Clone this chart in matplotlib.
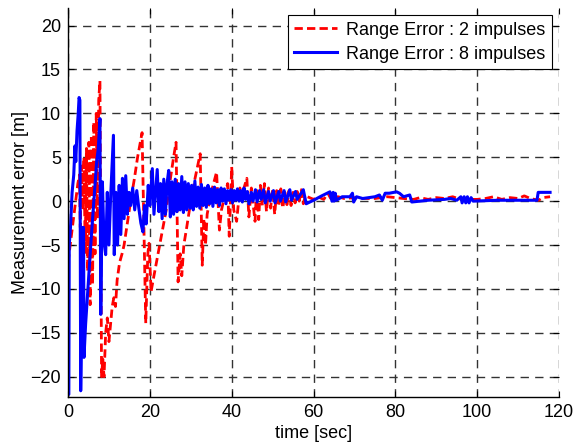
import matplotlib
matplotlib.use("Agg")
import matplotlib.pyplot as plt

plt.rcParams['font.family'] = ['Liberation Sans', 'DejaVu Sans']

# Range error, 2 impulses (red dashed)
red_t = [0.0, 0.4, 0.8, 1.2, 1.6, 2.0, 2.4, 2.8, 3.0, 3.3, 3.6, 3.9, 4.2, 4.5, 4.8, 5.1, 5.4, 5.7, 6.0, 6.3,
         6.6, 6.9, 7.2, 7.5, 7.8, 8.2, 8.5, 8.8, 9.2, 9.6, 10.0, 10.4, 10.8, 11.2, 11.6, 12.0, 12.6, 13.2, 13.7, 14.5,
         15.3, 16.2, 17.0, 17.6, 18.1, 18.5, 19.0, 19.5, 19.8, 20.3, 21.0, 22.0, 23.0, 24.0, 25.0, 25.8, 26.4, 26.9, 27.4, 27.8,
         28.3, 29.0, 30.0, 31.0, 32.3, 32.8, 33.2, 33.6, 34.0, 35.0, 36.3, 37.0, 37.5, 38.0, 39.0, 39.4, 40.0, 40.5, 41.2, 42.0,
         42.5, 43.0, 43.7, 44.2, 44.8, 45.7, 46.1, 46.6, 47.0, 47.5, 48.0, 48.5, 49.0, 49.5, 50.0, 50.5, 51.0, 51.5, 52.0, 52.5,
         53.0, 53.5, 54.0, 54.5, 55.0, 55.5, 56.0, 56.5, 57.0, 57.5, 58.0, 60.0, 61.0, 62.5, 63.5, 64.2, 66.0, 67.5, 70.0, 72.0,
         75.0, 78.0, 80.0, 82.0, 84.5, 86.0, 88.0, 90.0, 92.0, 94.0, 96.0, 100.0, 102.0, 104.0, 106.0, 108.0, 110.0, 111.5, 113.0, 115.0,
         116.0, 117.8]
red_err = [-7, -5.5, -4, -2.5, -1, 0.5, 2, 3, -3, 4, -1, 5, -6, 6, -8, 6.7, -11.8, 7.5, -9.5, 9,
           -6, 10, -2, 11.5, 13.7, -20, -18, -20, -15, -13.3, -16, -14, -12, -11, -12, -9, -7, -6, -5, -2.5,
           0, 2.5, 5, 6.5, 7.8, -2, -13.9, -6, -4.8, -10.3, -8.5, -6, -3.5, -1, 2.5, 5, 6.7, -9.2, -6, -8.5,
           -5, -3, 0, 2.5, 5.4, -7.3, -2, -5, -1.5, 1, 3.3, -3.3, -1, 0, 2, -4, 3.9, -1, -2.3, 1.5,
           0, 1.5, 2.6, -1.8, 1.5, -2.3, 1.5, -2.1, 1.8, -0.5, 2, -1.2, 1.5, -0.8, 1.3, -1.5, 1.2, -0.6, 1.4, -0.8,
           1.0, -0.4, 1.2, -0.5, 1.0, -0.2, 1.1, 0, 1.3, -0.3, 0.6, 0.2, 0.5, 0.2, 0.9, 0.3, 0.5, 0.3, 0.4, 0.3,
           0.3, 0.5, 0.4, 0.3, 0.2, 0.4, 0.2, 0.4, 0.3, 0.5, 0.2, 0.2, 0.3, 0.5, 0.2, 0.4, 0.3, 0.6, 0.3, 0.1,
           0.4, 0.5]

# Range error, 8 impulses (blue solid)
blue_t = [0.0, 0.2, 0.3, 0.6, 1.0, 1.4, 1.7, 1.9, 2.2, 2.5, 2.7, 2.9, 3.1, 3.3, 3.5, 3.8, 3.9, 4.3, 5.0, 5.7,
          6.3, 7.0, 7.4, 7.8, 8.0, 8.4, 8.8, 9.2, 9.6, 10.0, 10.4, 11.1, 11.3, 11.7, 12.1, 12.5, 12.9, 13.3, 13.7, 14.1,
          14.5, 14.9, 15.3, 15.8, 16.3, 16.8, 17.3, 17.8, 18.3, 18.7, 19.1, 19.6, 20.0, 20.6, 21.0, 21.4, 21.8, 22.2, 22.6, 23.0,
          23.4, 23.8, 24.2, 24.6, 25.0, 25.4, 25.8, 26.2, 26.6, 27.0, 27.4, 27.8, 28.2, 28.6, 29.0, 29.4, 29.8, 30.2, 30.6, 31.0,
          31.4, 31.8, 32.2, 32.6, 33.0, 33.4, 33.8, 34.2, 34.6, 35.0, 35.4, 35.8, 36.2, 36.6, 37.0, 37.4, 37.8, 38.2, 38.6, 39.0,
          39.4, 39.8, 40.2, 40.6, 41.0, 41.4, 41.8, 42.2, 42.6, 43.0, 43.4, 43.8, 44.2, 44.8, 45.2, 45.8, 46.2, 46.8, 47.2, 47.8,
          48.2, 49.0, 49.4, 50.2, 50.6, 51.5, 51.9, 52.8, 53.2, 54.2, 54.6, 55.6, 56.0, 57.5, 58.2, 60.0, 62.0, 64.0, 64.5, 64.8,
          65.0, 65.3, 65.6, 67.0, 68.9, 69.5, 69.8, 70.5, 72.0, 75.0, 76.1, 76.8, 77.5, 78.5, 80.3, 81.0, 82.0, 83.5, 84.0, 88.0,
          92.0, 93.5, 95.0, 96.0, 96.3, 96.8, 97.2, 97.6, 98.0, 98.5, 99.0, 105.0, 110.0, 114.6, 114.9, 117.8]
blue_err = [-22, -22, -5, -3, 1, 3, 6.3, 4.5, 8, 10, 11.8, 11.5, -21.6, -15, -3, -3, -17.8, -14, -9, -4,
            0, 4.5, 6, 9.4, -12.9, 2.2, -4.6, -6.1, 1, -5, 0.3, 7.5, -6.1, 1, -5, 1.8, -3.8, 2.6, -2, 2.9,
            -1.5, 1, -0.5, 1.5, -1, 1.2, -0.8, -2.5, -3.5, -0.5, -2.6, 1.8, -0.5, 3.7, -1.5, 1, 3.6, -1.2, 2, -2,
            2.5, -1.5, 2, 3.5, -1.8, 2.2, -1.5, 2.5, -1.2, 2, -1, 2.8, -1.3, 2.2, -1, 2, -0.8, 1.8, -1, 2.3,
            -0.6, 1.6, -0.8, 1.9, -0.5, 1.5, -0.7, 1.8, -0.3, 1.4, -0.6, 1.6, -0.2, 1.3, -0.5, 1.5, 0, 1.4, -0.3, 1.2,
            0.1, 1.3, -0.2, 1.2, 0.1, 1.4, 0, 1.2, -0.1, 1.5, 0.2, 1.1, -0.3, 1.0, 0, 1.3, -0.1, 1.2, 0.2, 1.3,
            -0.2, 1.1, 0, 1.2, -0.2, 1.1, 0, 1.2, -0.1, 1.3, 0.1, 1.1, 0.2, 1.3, -0.3, 0.1, 0.6, 1.06, 0.0, 1.0,
            0.0, 0.9, 0.1, 0.5, 0.5, 0.9, -0.1, 0.5, 0.3, 0.5, 0.7, 0.1, 0.9, 0.9, 1.06, 0.9, 0.5, 0.7, -0.1, 0.1,
            0.2, 0.3, 0.1, 0.5, -0.2, 0.5, -0.2, 0.5, -0.2, 0.4, 0.0, 0.1, 0.1, 0.1, 1.0, 1.0]

x_ticks = [0, 20, 40, 60, 80, 100, 120]
y_ticks = [-20, -15, -10, -5, 0, 5, 10, 15, 20]

FS = 13

fig = plt.figure(figsize=(5.74, 4.43), dpi=100)
ax = fig.add_axes([0.1185, 0.104, 0.8555, 0.878])

ax.plot(red_t, red_err, color='#ff0000', linestyle=(0, (3, 1.5)), linewidth=2.0,
        label='Range Error : 2 impulses')
ax.plot(blue_t, blue_err, color='#0000ff', linestyle='-', linewidth=2.2,
        label='Range Error : 8 impulses')

ax.set_xlim(0, 120)
ax.set_ylim(-22.3, 22.0)
ax.set_xticks(x_ticks)
ax.set_yticks(y_ticks)
ax.tick_params(direction='in', length=4, width=0.8, top=True, right=True,
               labelsize=FS, colors='black', pad=5)
for s in ['top', 'right']:
    ax.spines[s].set_visible(False)
for s in ['left', 'bottom']:
    ax.spines[s].set_linewidth(1.0)
    ax.spines[s].set_color('black')
ax.grid(True, color='#333333', linestyle=(0, (6, 4.5)), linewidth=1.0)
ax.set_axisbelow(True)

ax.set_xlabel('time [sec]', fontsize=FS, labelpad=3)
ax.set_ylabel('Measurement error [m]', fontsize=FS, labelpad=1)

leg = ax.legend(loc='upper right', fontsize=FS, frameon=True, fancybox=False,
                edgecolor='black', framealpha=1.0, handlelength=2.4,
                borderaxespad=0.4, borderpad=0.35, labelspacing=0.4,
                handletextpad=0.5)
leg.get_frame().set_linewidth(0.8)

fig.savefig('out.png', dpi=100)
